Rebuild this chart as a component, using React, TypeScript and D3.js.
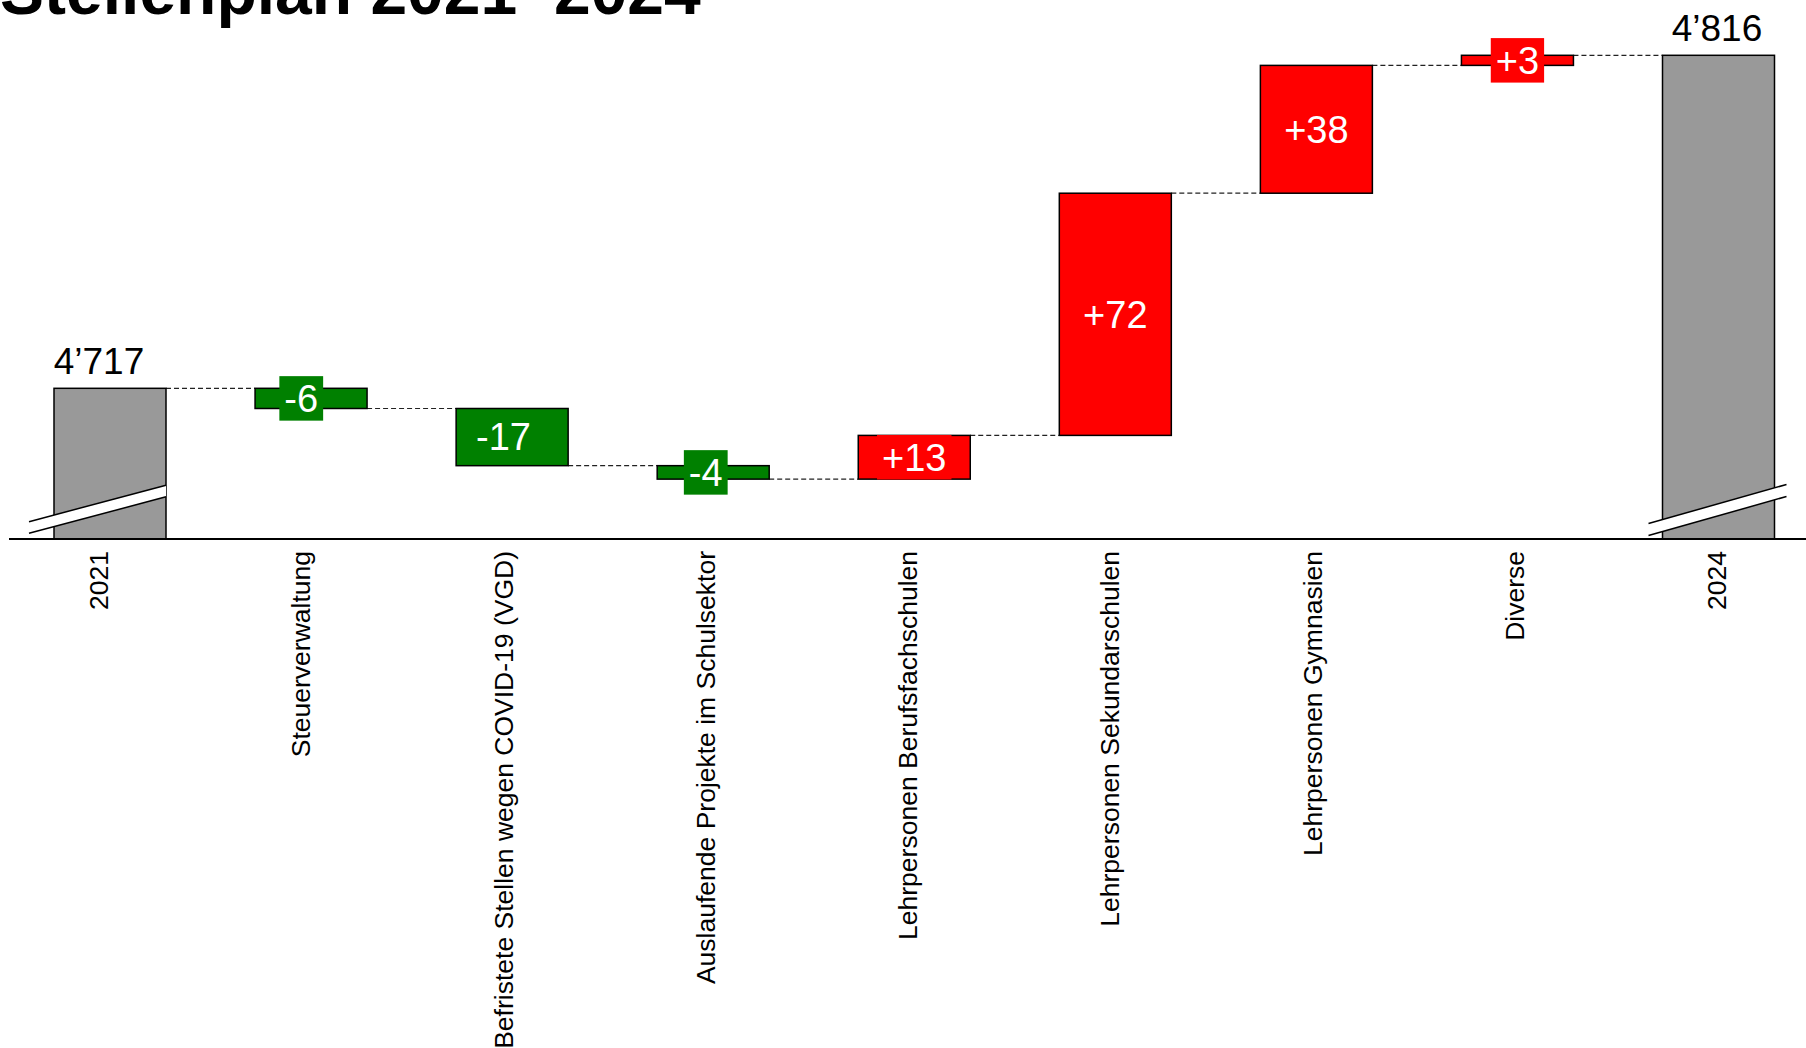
import React from "react";
import * as d3 from "d3";

const categories = [
  "2021",
  "Steuerverwaltung",
  "Befristete Stellen wegen COVID-19 (VGD)",
  "Auslaufende Projekte im Schulsektor",
  "Lehrpersonen Berufsfachschulen",
  "Lehrpersonen Sekundarschulen",
  "Lehrpersonen Gymnasien",
  "Diverse",
  "2024",
];
const startValue = 4717;
const deltas = [-6, -17, -4, 13, 72, 38, 3];
const totalLabels = ["4’717", "4’816"];
const title = "Stellenplan 2021–2024";

const W = 1806;
const H = 1048;
const FONT = "'Liberation Sans', Arial, Helvetica, sans-serif";
const GREEN = "#008000";
const RED = "#ff0000";
const GRAY = "#999999";

function measure(text: string, size: number) {
  if (typeof document === "undefined") return text.length * size * 0.55;
  const c = document.createElement("canvas").getContext("2d");
  if (!c) return text.length * size * 0.55;
  c.font = `${size}px ${FONT}`;
  return c.measureText(text).width;
}

export default function App() {
  const baseY = 539;
  const y = d3.scaleLinear().domain([4672.2, 4816]).range([baseY, 55.3]);
  const xBar = d3.scalePoint<string>().domain(categories).range([110, 1718.5]);
  const xLab = d3.scalePoint<string>().domain(categories).range([99, 1717]);
  const bw = 112;

  const endValue = deltas.reduce((a, b) => a + b, startValue);
  type Seg = { cat: string; y0: number; y1: number; kind: "total" | "up" | "down"; delta?: number };
  const segs: Seg[] = [];
  segs.push({ cat: categories[0], y0: y.domain()[0], y1: startValue, kind: "total" });
  let run = startValue;
  deltas.forEach((d, i) => {
    const next = run + d;
    segs.push({ cat: categories[i + 1], y0: run, y1: next, kind: d >= 0 ? "up" : "down", delta: d });
    run = next;
  });
  segs.push({ cat: categories[8], y0: y.domain()[0], y1: endValue, kind: "total" });

  const levels = [startValue];
  let r = startValue;
  deltas.forEach((d) => {
    r += d;
    levels.push(r);
  });

  const labelFont = 38;
  const boxPad = 5;
  const boxH = 44.5;

  const breaks = [
    { cat: categories[0], xl: -25, xr: 0, yl: 11.5, yr: 48, gap: 11.6 },
    { cat: categories[8], xl: -14, xr: 12, yl: 9.5, yr: 48.5, gap: 12 },
  ];

  return (
    <svg width={W} height={H} style={{ position: "absolute", left: 0, top: 0, background: "#fff" }} fontFamily={FONT}>
      <rect x={0} y={0} width={W} height={H} fill="#fff" />
      <text x={0} y={14} fontSize={66} fontWeight="bold" fill="#000">
        {title}
      </text>

      {levels.map((lv, i) => {
        const x1 = (xBar(categories[i]) as number) + bw / 2;
        const x2 = (xBar(categories[i + 1]) as number) - bw / 2;
        return (
          <line
            key={"c" + i}
            x1={x1}
            x2={x2}
            y1={y(lv)}
            y2={y(lv)}
            stroke="#222"
            strokeWidth={1.2}
            strokeDasharray="5,3"
          />
        );
      })}

      {segs.map((s, i) => {
        const cx = xBar(s.cat) as number;
        const top = Math.min(y(s.y0), y(s.y1));
        const h = Math.abs(y(s.y0) - y(s.y1));
        const fill = s.kind === "total" ? GRAY : s.kind === "up" ? RED : GREEN;
        return (
          <rect
            key={"b" + i}
            x={cx - bw / 2}
            y={top}
            width={bw}
            height={h}
            fill={fill}
            stroke="#000"
            strokeWidth={1.5}
          />
        );
      })}

      {breaks.map((b, i) => {
        const cx = xBar(b.cat) as number;
        const xa = cx - bw / 2 + b.xl;
        const xb = cx + bw / 2 + b.xr;
        const ya = baseY - b.yl;
        const yb = baseY - b.yr;
        const g = b.gap / 2;
        return (
          <g key={"br" + i}>
            <polygon
              points={`${xa},${ya - g} ${xb},${yb - g} ${xb},${yb + g} ${xa},${ya + g}`}
              fill="#fff"
            />
            <line x1={xa} y1={ya - g} x2={xb} y2={yb - g} stroke="#000" strokeWidth={1.5} />
            <line x1={xa} y1={ya + g} x2={xb} y2={yb + g} stroke="#000" strokeWidth={1.5} />
          </g>
        );
      })}

      <line x1={9} x2={W} y1={baseY} y2={baseY} stroke="#000" strokeWidth={2} />

      <text x={xLab(categories[0]) as number} y={y(startValue) - 14} fontSize={37} textAnchor="middle" fill="#000">
        {totalLabels[0]}
      </text>
      <text x={xLab(categories[8]) as number} y={y(endValue) - 14} fontSize={37} textAnchor="middle" fill="#000">
        {totalLabels[1]}
      </text>

      {segs
        .filter((s) => s.kind !== "total")
        .map((s, i) => {
          const txt = (s.delta! > 0 ? "+" : "") + String(s.delta);
          const w = measure(txt, labelFont) + boxPad * 2;
          const cx = s.kind === "up" ? (xBar(s.cat) as number) : (xLab(s.cat) as number);
          const mid = (y(s.y0) + y(s.y1)) / 2;
          const fill = s.kind === "up" ? RED : GREEN;
          return (
            <g key={"dl" + i}>
              <rect x={cx - w / 2} y={mid - boxH / 2} width={w} height={boxH} fill={fill} />
              <text x={cx} y={mid + 13.3} fontSize={labelFont} textAnchor="middle" fill="#fff">
                {txt}
              </text>
            </g>
          );
        })}

      {categories.map((c) => {
        const x = (xLab(c) as number) + 9;
        return (
          <text
            key={"cl" + c}
            transform={`translate(${x},551) rotate(-90)`}
            fontSize={26.5}
            textAnchor="end"
            fill="#000"
          >
            {c}
          </text>
        );
      })}
    </svg>
  );
}
